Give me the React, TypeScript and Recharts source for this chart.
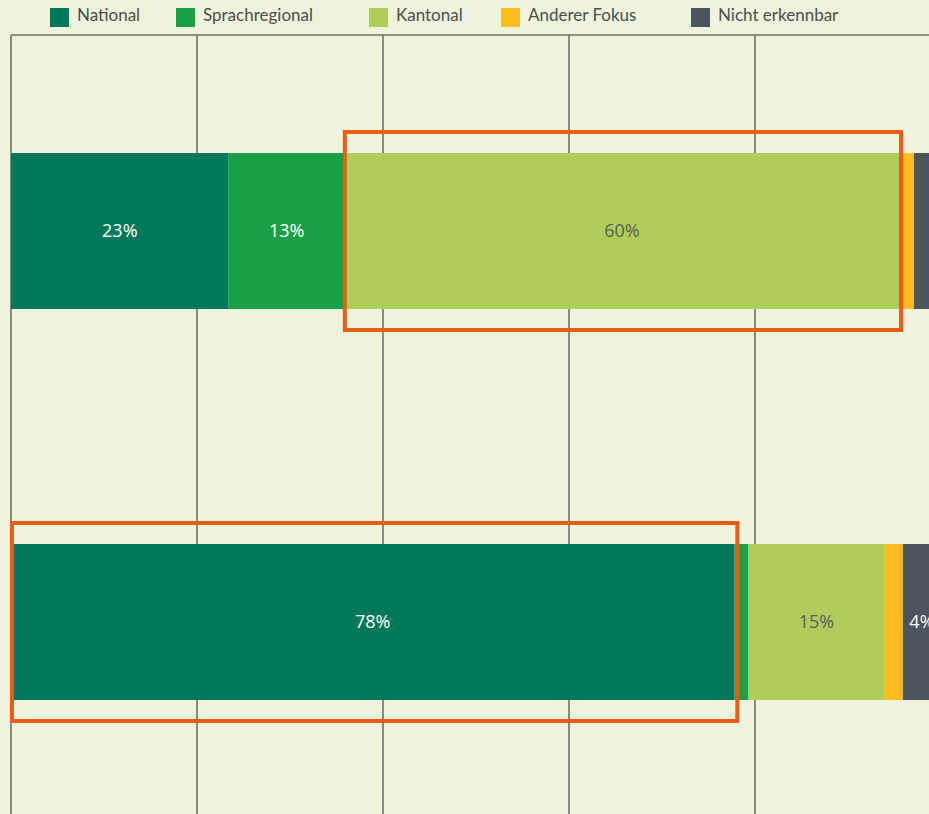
import { Bar, BarChart, CartesianGrid, LabelList, XAxis, YAxis } from "recharts";

// categories (two surveyed groups, top to bottom)
const groups = ["Gruppe A", "Gruppe B"];

const seriesNames = ["National", "Sprachregional", "Kantonal", "Anderer Fokus", "Nicht erkennbar"];
const national = [23.4, 77.8];
const sprachregional = [12.5, 1.5];
const kantonal = [59.6, 14.6];
const andererFokus = [1.6, 2.0];
const nichtErkennbar = [2.9, 4.1];

const xTicks = [0, 20, 40, 60, 80, 100];

// highlighted ranges (percent), one per group
const boxStart = [35.9, 0.1];
const boxEnd = [95.7, 78.1];

const keys = ["national", "sprachregional", "kantonal", "andererFokus", "nichtErkennbar"];
const colors = ["#00785a", "#1aa148", "#aecd5a", "#fbbd1f", "#4a555d"];
const labelColors = ["#ffffff", "#ffffff", "#5b5b5b", "#5b5b5b", "#ffffff"];
const legendLeft = [50, 176, 369, 501, 691];

const data = groups.map((name, i) => ({
  name,
  national: national[i],
  sprachregional: sprachregional[i],
  kantonal: kantonal[i],
  andererFokus: andererFokus[i],
  nichtErkennbar: nichtErkennbar[i],
}));

const boxData = groups.map((name, i) => ({
  name,
  spacer: boxStart[i],
  box: boxEnd[i] - boxStart[i],
}));

const fmt = (v: unknown) => {
  const n = Number(v);
  return n >= 3.5 ? `${Math.round(n)}%` : "";
};

const chartProps = {
  width: 960,
  height: 820,
  layout: "vertical" as const,
  margin: { top: 35, right: 19, left: 11, bottom: 3 },
};

const scaleOf = (axis: any, v: number) =>
  typeof axis.scale === "function" ? axis.scale(v) : axis.scale.map(v);

export default function App() {
  return (
    <div
      style={{
        position: "absolute",
        left: 0,
        top: 0,
        width: 929,
        height: 814,
        overflow: "hidden",
        background: "#eef3dc",
      }}
    >
      {seriesNames.map((s, i) => (
        <div key={s} style={{ position: "absolute", left: legendLeft[i], top: 8, height: 19 }}>
          <span
            style={{ position: "absolute", left: 0, top: 0, width: 19, height: 19, background: colors[i] }}
          />
          <span
            style={{
              position: "absolute",
              left: 27,
              top: -3,
              whiteSpace: "nowrap",
              fontFamily: "Lato, sans-serif",
              fontSize: 17,
              lineHeight: "20px",
              color: "#4d4d4d",
            }}
          >
            {s}
          </span>
        </div>
      ))}
      <div style={{ position: "absolute", left: 0, top: 0 }}>
        <BarChart {...chartProps} data={data} barSize={156}>
          <CartesianGrid
            stroke="#6e7268"
            strokeWidth={1.6}
            verticalCoordinatesGenerator={({ xAxis }: any) => xTicks.map((t) => scaleOf(xAxis, t))}
            horizontalCoordinatesGenerator={({ offset }: any) => [offset.top]}
          />
          <XAxis type="number" domain={[0, 100]} ticks={xTicks} hide />
          <YAxis type="category" dataKey="name" hide />
          {keys.map((k, i) => (
            <Bar key={k} dataKey={k} name={seriesNames[i]} stackId="a" fill={colors[i]} isAnimationActive={false}>
              <LabelList
                dataKey={k}
                position="center"
                formatter={fmt}
                fill={labelColors[i]}
                style={{ fontFamily: "'Open Sans', sans-serif", fontSize: 18 }}
              />
            </Bar>
          ))}
        </BarChart>
      </div>
      <div style={{ position: "absolute", left: 0, top: 0 }}>
        <BarChart {...chartProps} data={boxData} barSize={198}>
          <XAxis type="number" domain={[0, 100]} hide />
          <YAxis type="category" dataKey="name" hide />
          <Bar dataKey="spacer" stackId="b" fill="none" isAnimationActive={false} />
          <Bar
            dataKey="box"
            stackId="b"
            fill="none"
            stroke="#e85c18"
            strokeWidth={4}
            isAnimationActive={false}
          />
        </BarChart>
      </div>
    </div>
  );
}
